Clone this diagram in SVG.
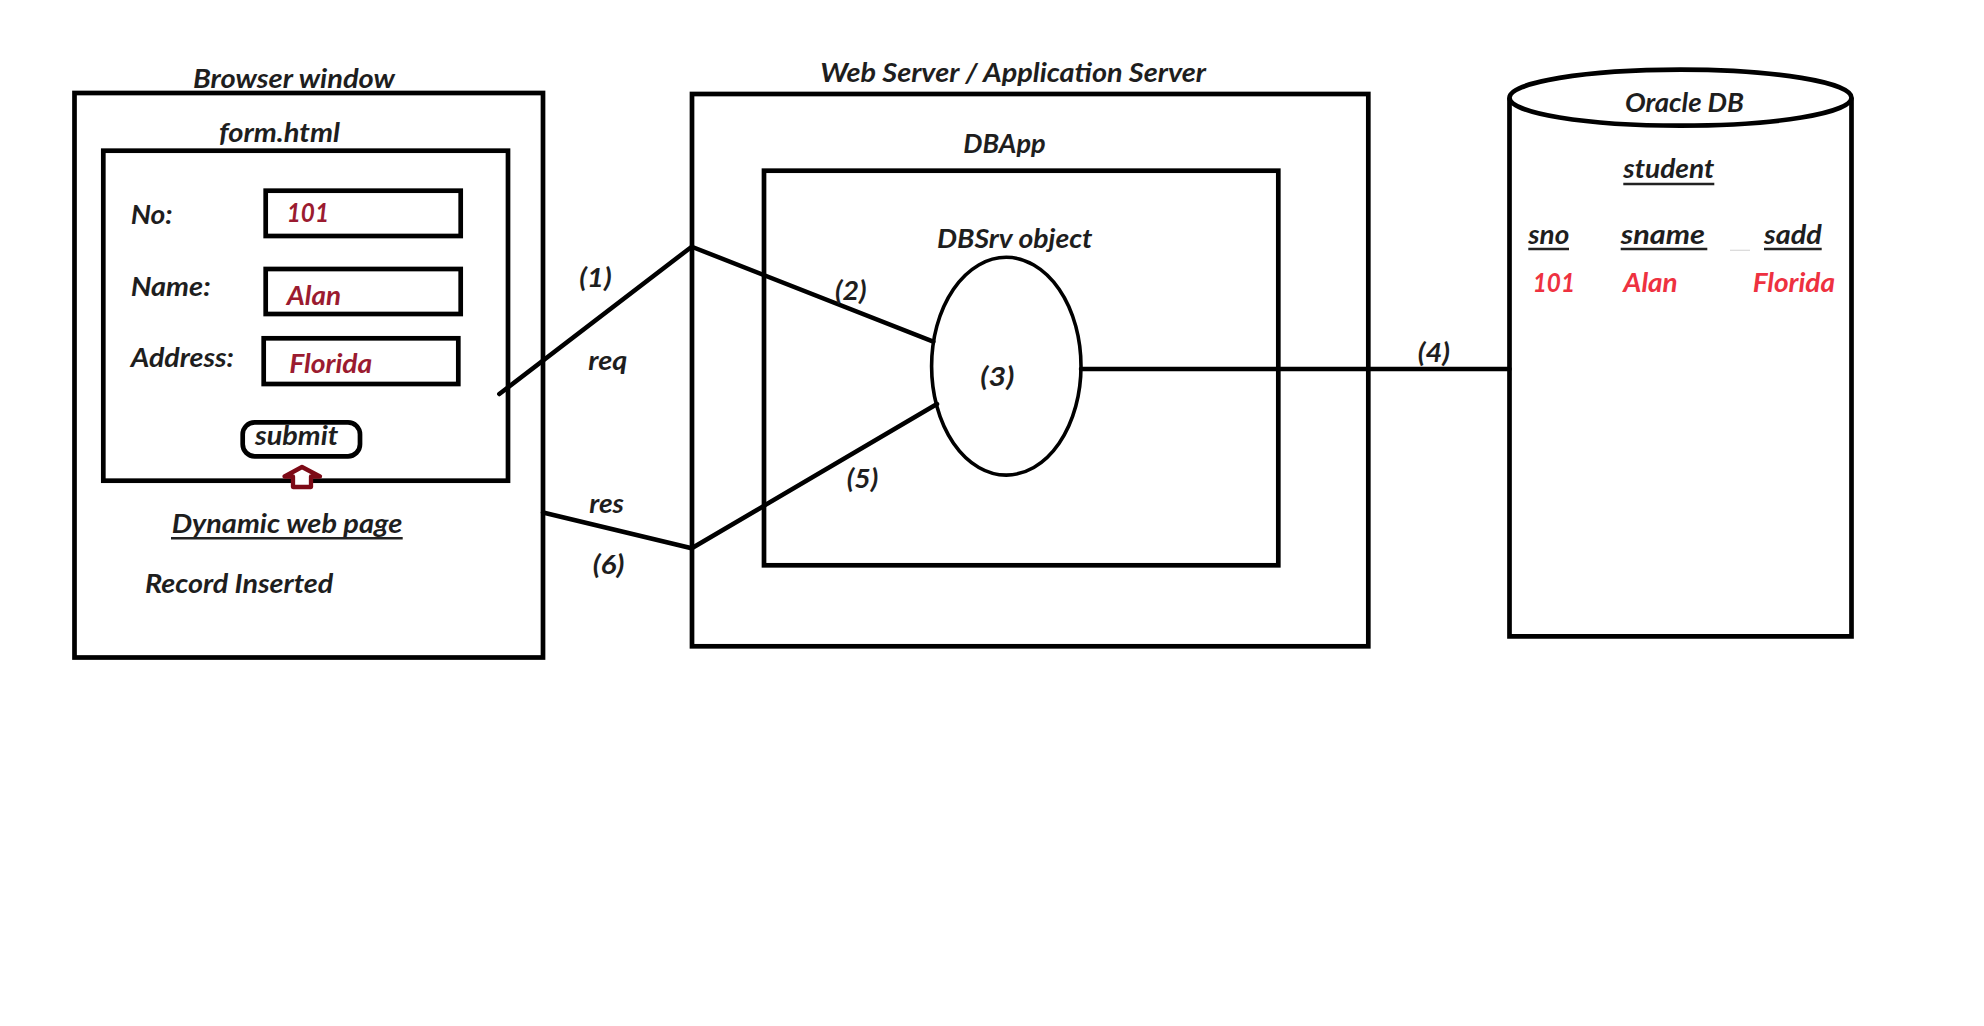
<svg xmlns="http://www.w3.org/2000/svg" width="1984" height="1026" viewBox="0 0 1984 1026">
<style>
.t{font-family:Lato,"Open Sans","Liberation Sans",sans-serif;font-weight:bold;font-style:italic;font-size:26px;fill:#1e1e1e}
.v{fill:#9b1b30}
.r{fill:#ee3140}
.box{fill:none;stroke:#000;stroke-width:4.7}
.ln{fill:none;stroke:#000;stroke-width:4.5;stroke-linecap:round}
.ul{stroke:#222;stroke-width:2.6}
</style>
<rect width="1984" height="1026" fill="#fff"/>

<g id="connectors">
  <polyline class="ln" points="499.3,394 691.7,246.7 933.3,341.7"/>
  <polyline class="ln" points="543,512.5 691.7,548.3 937,404"/>
  <line class="ln" x1="1081" y1="369" x2="1509.5" y2="369"/>
  <text class="t" x="579.3" y="286.7" textLength="32.4" lengthAdjust="spacingAndGlyphs">(1)</text>
  <text class="t" x="588.3" y="370" textLength="39" lengthAdjust="spacingAndGlyphs">req</text>
  <text class="t" x="835" y="300" textLength="31.7" lengthAdjust="spacingAndGlyphs">(2)</text>
  <text class="t" x="846.7" y="488.3" textLength="31.6" lengthAdjust="spacingAndGlyphs">(5)</text>
  <text class="t" x="589.3" y="512.7" textLength="34.7" lengthAdjust="spacingAndGlyphs">res</text>
  <text class="t" x="592.7" y="574.3" textLength="31.6" lengthAdjust="spacingAndGlyphs">(6)</text>
  <text class="t" x="1417.7" y="361.7" textLength="32.3" lengthAdjust="spacingAndGlyphs">(4)</text>
</g>

<g id="browser-window">
  <rect class="box" x="74.5" y="93" width="468.5" height="564.5"/>
  <text class="t" x="193" y="88" textLength="202" lengthAdjust="spacingAndGlyphs">Browser window</text>
  <text class="t" x="171.7" y="533.3" textLength="230.6" lengthAdjust="spacingAndGlyphs">Dynamic web page</text>
  <line class="ul" x1="171" y1="538.3" x2="402.7" y2="538.3"/>
  <text class="t" x="145" y="592.7" textLength="188.3" lengthAdjust="spacingAndGlyphs">Record Inserted</text>
</g>

<g id="form-html">
  <rect class="box" x="103.3" y="150.7" width="404.7" height="330"/>
  <text class="t" x="219" y="141.7" textLength="121" lengthAdjust="spacingAndGlyphs">form.html</text>
  <text class="t" x="130.7" y="224" textLength="42" lengthAdjust="spacingAndGlyphs">No:</text>
  <text class="t" x="130.7" y="296" textLength="80" lengthAdjust="spacingAndGlyphs">Name:</text>
  <text class="t" x="130.7" y="366.7" textLength="103.3" lengthAdjust="spacingAndGlyphs">Address:</text>
  <rect class="box" x="265.7" y="190.7" width="195" height="45.3"/>
  <rect class="box" x="265.7" y="269" width="195" height="45"/>
  <rect class="box" x="263.7" y="338.3" width="194.6" height="45.7"/>
  <text class="t v" x="286.7" y="221.7" textLength="42.3" lengthAdjust="spacingAndGlyphs">101</text>
  <text class="t v" x="286.7" y="305" textLength="54.3" lengthAdjust="spacingAndGlyphs">Alan</text>
  <text class="t v" x="289.3" y="373.3" textLength="83" lengthAdjust="spacingAndGlyphs">Florida</text>
  <rect class="box" x="242.7" y="422.3" width="117.3" height="34" rx="12" ry="12"/>
  <text class="t" x="255" y="445" textLength="83.3" lengthAdjust="spacingAndGlyphs">submit</text>
  <polygon points="302,467 320,476.5 311,476.5 311,487 293,487 293,476.5 284.5,476.5" fill="#fff" stroke="#7d0a16" stroke-width="4.3" stroke-linejoin="round"/>
</g>

<g id="web-server">
  <rect class="box" x="692" y="94" width="676.3" height="552.3"/>
  <text class="t" x="820.2" y="82" textLength="385.7" lengthAdjust="spacingAndGlyphs">Web Server / Application Server</text>
</g>

<g id="dbapp">
  <rect class="box" x="764" y="170.7" width="514.3" height="394.6"/>
  <text class="t" x="963.3" y="153.3" textLength="82.4" lengthAdjust="spacingAndGlyphs">DBApp</text>
</g>

<g id="dbsrv-object">
  <ellipse cx="1006.3" cy="366.2" rx="74.7" ry="108.9" fill="none" stroke="#000" stroke-width="3.6"/>
  <text class="t" x="937" y="248.3" textLength="155.5" lengthAdjust="spacingAndGlyphs">DBSrv object</text>
  <text class="t" x="980.3" y="386" textLength="34" lengthAdjust="spacingAndGlyphs">(3)</text>
</g>

<g id="oracle-db">
  <path class="box" d="M1509.5,97.7 V636.3 H1851.5 V97.7"/>
  <ellipse class="box" cx="1680.5" cy="97.7" rx="171" ry="28"/>
  <text class="t" x="1625" y="111.7" textLength="119" lengthAdjust="spacingAndGlyphs">Oracle DB</text>
  <text class="t" x="1623.3" y="178.3" textLength="91" lengthAdjust="spacingAndGlyphs">student</text>
  <line class="ul" x1="1623.3" y1="184" x2="1714.3" y2="184"/>
  <text class="t" x="1528.3" y="244" textLength="41" lengthAdjust="spacingAndGlyphs">sno</text>
  <line class="ul" x1="1528.3" y1="249" x2="1569" y2="249"/>
  <text class="t" x="1620.7" y="244" textLength="84.3" lengthAdjust="spacingAndGlyphs">sname</text>
  <line class="ul" x1="1620.7" y1="249" x2="1707.3" y2="249"/>
  <line x1="1730" y1="250.3" x2="1750" y2="250.3" stroke="#d8d8d8" stroke-width="1.2"/>
  <text class="t" x="1764" y="244" textLength="57.7" lengthAdjust="spacingAndGlyphs">sadd</text>
  <line class="ul" x1="1764" y1="249" x2="1821.7" y2="249"/>
  <text class="t r" x="1532.7" y="292.3" textLength="42.3" lengthAdjust="spacingAndGlyphs">101</text>
  <text class="t r" x="1623.3" y="292.3" textLength="54.4" lengthAdjust="spacingAndGlyphs">Alan</text>
  <text class="t r" x="1752.7" y="292.3" textLength="82.3" lengthAdjust="spacingAndGlyphs">Florida</text>
</g>
</svg>
